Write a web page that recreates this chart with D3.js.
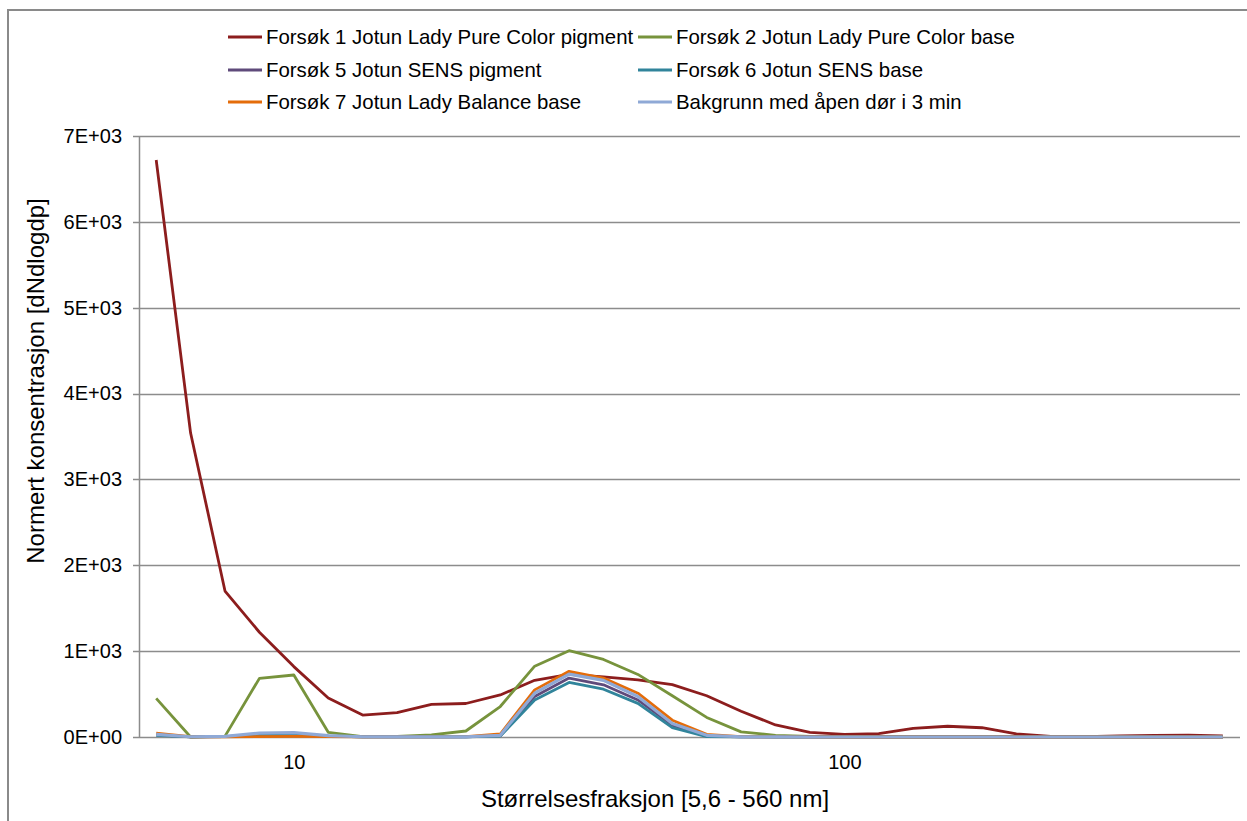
<!DOCTYPE html>
<html>
<head>
<meta charset="utf-8">
<script src="https://cdn.jsdelivr.net/npm/d3@7"></script>
<style>
  body { margin: 0; background: #fff; }
  svg { font-family: "Liberation Sans", Arial, sans-serif; }
  .grid line { stroke: #8c8c8c; stroke-width: 1.5; }
  .tick-label { font-size: 20px; fill: #000; }
  .axis-title { font-size: 24px; fill: #000; }
  .legend-text { font-size: 20.4px; fill: #000; }
</style>
</head>
<body>
<svg width="1247" height="821"></svg>
<script>
// Size classes (nm), one per category on the x axis
var sizes = [5.62, 6.49, 7.50, 8.66, 10.0, 11.5, 13.3, 15.4, 17.8, 20.5, 23.7, 27.4,
  31.6, 36.5, 42.2, 48.7, 56.2, 64.9, 75.0, 86.6, 100, 115, 133, 154, 178, 205,
  237, 274, 316, 365, 422, 487];

// Only these categories carry a label
var xTickLabels = [{ size: 10.0, label: "10" }, { size: 100, label: "100" }];
var yTicks = [0, 1000, 2000, 3000, 4000, 5000, 6000, 7000];

var seriesNames = [
  "Forsøk 1 Jotun Lady Pure Color pigment",
  "Forsøk 2 Jotun Lady Pure Color base",
  "Forsøk 5 Jotun SENS pigment",
  "Forsøk 6 Jotun SENS base",
  "Forsøk 7 Jotun Lady Balance base",
  "Bakgrunn med åpen dør i 3 min"
];
var seriesColors = ["#8c1d1d", "#77933c", "#5f4a7b", "#31849b", "#e46c0a", "#8fa9d6"];

var forsok1 = [6720, 3540, 1700, 1220, 820, 455, 255, 283, 380, 390, 490, 660,
  730, 700, 665, 610, 480, 300, 140, 55, 31, 40, 101, 125, 108, 35, 8, 3, 12, 20, 22, 14];
var forsok2 = [450, 0, 10, 683, 722, 55, 5, 8, 25, 70, 355, 825,
  1005, 903, 729, 480, 228, 60, 20, 8, 5, 4, 3, 3, 3, 2, 2, 2, 2, 2, 2, 2];
var forsok5 = [25, 2, 5, 25, 30, 10, 3, 2, 2, 3, 15, 471,
  686, 608, 431, 137, 10, 2, 1, 1, 0, 0, 0, 0, 0, 0, 0, 0, 0, 0, 0, 0];
var forsok6 = [20, 2, 5, 25, 30, 10, 3, 2, 2, 3, 10, 431,
  635, 557, 392, 110, 5, 1, 0, 0, 0, 0, 0, 0, 0, 0, 0, 0, 0, 0, 0, 0];
var forsok7 = [45, 3, 2, 5, 8, 5, 2, 2, 2, 5, 35, 549,
  765, 686, 510, 196, 31, 5, 2, 1, 0, 0, 0, 0, 0, 0, 0, 0, 0, 0, 0, 0];
var bakgrunn = [30, 3, 8, 45, 50, 15, 3, 2, 2, 3, 20, 510,
  733, 659, 471, 157, 20, 3, 1, 0, 0, 0, 0, 0, 0, 0, 0, 0, 0, 0, 0, 0];

var seriesValues = [forsok1, forsok2, forsok5, forsok6, forsok7, bakgrunn];

var svg = d3.select("svg");

// Outer chart border (only top and left visible in the frame)
svg.append("rect")
  .attr("x", 8)
  .attr("y", 10)
  .attr("width", 1300)
  .attr("height", 900)
  .attr("fill", "none")
  .attr("stroke", "#8a8a8a")
  .attr("stroke-width", 2);

var plot = { left: 139, right: 1240, top: 136, bottom: 737 };

// Category axis, points sit in the middle of each slot
var x = d3.scalePoint()
  .domain(sizes)
  .range([plot.left, plot.right])
  .padding(0.5);

var y = d3.scaleLinear()
  .domain([0, 7000])
  .range([plot.bottom, plot.top]);

function expFormat(v) {
  if (v === 0) return "0E+00";
  var e = Math.floor(Math.log10(v));
  return Math.round(v / Math.pow(10, e)) + "E+" + String(e).padStart(2, "0");
}

// Horizontal gridlines (they stick out a little to the left as tick marks)
svg.append("g")
  .attr("class", "grid")
  .selectAll("line")
  .data(yTicks)
  .enter().append("line")
  .attr("x1", plot.left - 6)
  .attr("x2", plot.right)
  .attr("y1", function(d) { return Math.round(y(d)) + 0.5; })
  .attr("y2", function(d) { return Math.round(y(d)) + 0.5; });

// Vertical axis line
svg.append("line")
  .attr("x1", plot.left + 0.5)
  .attr("x2", plot.left + 0.5)
  .attr("y1", plot.top)
  .attr("y2", plot.bottom)
  .attr("stroke", "#8c8c8c")
  .attr("stroke-width", 1.5);

// Y tick labels
var yAxis = d3.axisLeft(y)
  .tickValues(yTicks)
  .tickFormat(expFormat)
  .tickSize(0)
  .tickPadding(17);

var yAxisG = svg.append("g")
  .attr("transform", "translate(" + plot.left + ",0)")
  .call(yAxis);
yAxisG.select(".domain").remove();
yAxisG.selectAll("text")
  .attr("class", "tick-label")
  .attr("font-family", null)
  .attr("font-size", null);

// X tick labels, only 10 and 100
var xAxis = d3.axisBottom(x)
  .tickValues(xTickLabels.map(function(d) { return d.size; }))
  .tickFormat(function(d) {
    return xTickLabels.find(function(t) { return t.size === d; }).label;
  })
  .tickSize(0)
  .tickPadding(18);

var xAxisG = svg.append("g")
  .attr("transform", "translate(0," + plot.bottom + ")")
  .call(xAxis);
xAxisG.select(".domain").remove();
xAxisG.selectAll("text")
  .attr("class", "tick-label")
  .attr("font-family", null)
  .attr("font-size", null);

// Series lines
var line = d3.line()
  .x(function(d, i) { return x(sizes[i]); })
  .y(function(d) { return y(d); });

svg.append("g")
  .selectAll("path")
  .data(seriesValues)
  .enter().append("path")
  .attr("d", line)
  .attr("fill", "none")
  .attr("stroke", function(d, i) { return seriesColors[i]; })
  .attr("stroke-width", function(d, i) { return i === 5 ? 3.2 : 2.8; })
  .attr("stroke-linejoin", "round");

// Axis titles
svg.append("text")
  .attr("class", "axis-title")
  .attr("x", 655)
  .attr("y", 807)
  .attr("text-anchor", "middle")
  .text("Størrelsesfraksjon [5,6 - 560 nm]");

svg.append("text")
  .attr("class", "axis-title")
  .attr("transform", "translate(44,381) rotate(-90)")
  .attr("text-anchor", "middle")
  .text("Normert konsentrasjon [dNdlogdp]");

// Legend, two columns by three rows
var legendCols = [228, 638];
var legendRows = [37, 70, 102];

var legendItem = svg.append("g")
  .selectAll("g")
  .data(seriesNames)
  .enter().append("g")
  .attr("transform", function(d, i) {
    return "translate(" + legendCols[i % 2] + "," + legendRows[Math.floor(i / 2)] + ")";
  });

legendItem.append("line")
  .attr("x1", 0)
  .attr("x2", 34)
  .attr("y1", 0)
  .attr("y2", 0)
  .attr("stroke", function(d, i) { return seriesColors[i]; })
  .attr("stroke-width", 3);

legendItem.append("text")
  .attr("class", "legend-text")
  .attr("x", 38)
  .attr("y", 7)
  .text(function(d) { return d; });
</script>
</body>
</html>
